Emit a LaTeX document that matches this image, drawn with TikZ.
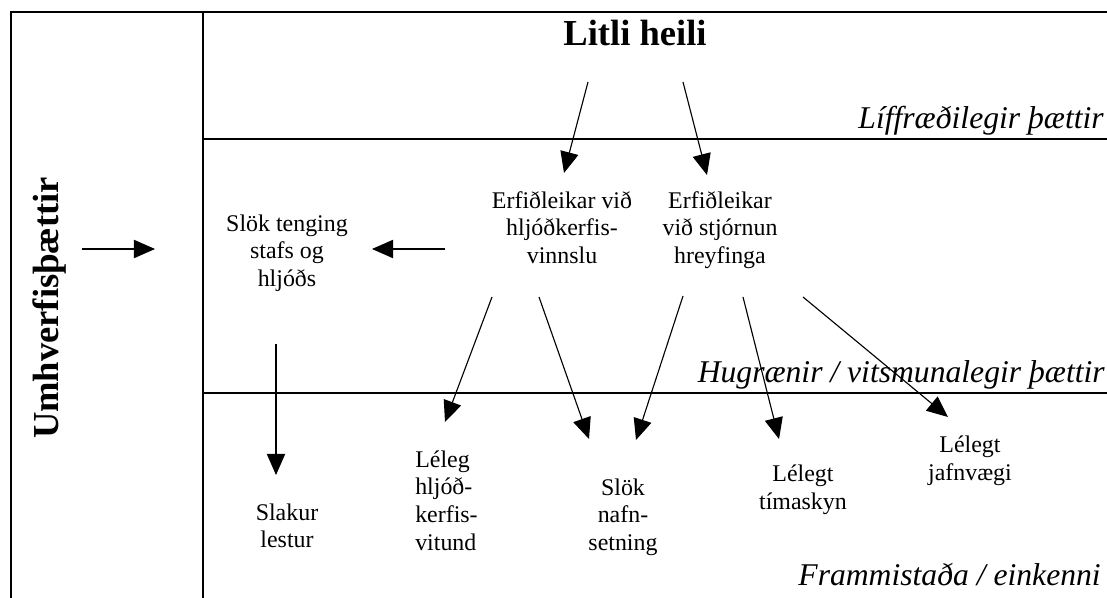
\documentclass[tikz,border=0pt]{standalone}
\usepackage{fontspec}
\setmainfont{Liberation Serif}
\usetikzlibrary{arrows.meta}

\tikzset{
  txt/.style={inner sep=0pt, align=center, font=\fontsize{17}{19.6}\selectfont},
  layer/.style={inner sep=0pt, font=\fontsize{22.5}{27}\selectfont\itshape},
  frame/.style={line width=1.3pt},
  arr/.style={line width=0.8pt, -{Triangle[length=15pt,width=13pt]}},
}

\begin{document}
\begin{tikzpicture}[x=0.025cm, y=-0.025cm]
        \useasboundingbox (0,0) rectangle (1107,598);

        % Frame and layers
        \draw[frame] (11,598) -- (11,12) -- (1107,12);
        \draw[frame] (203,12) -- (203,598);
        \draw[frame] (203,139) -- (1107,139);
        \draw[line width=1.1pt] (203,393) -- (1107,393);

        \node[layer, anchor=base east] (bio) at (1104,128) {Líffræðilegir þættir};
        \node[layer, anchor=base east] (cog) at (1105,382) {Hugrænir / vitsmunalegir þættir};
        \node[layer, anchor=base east] (beh) at (1101,585) {Frammistaða / einkenni};

        % Environment
        \node[inner sep=0pt, rotate=90, anchor=base, font=\fontsize{26}{30}\selectfont\bfseries] (env) at (58,308) {Umhverfisþættir};

        % Biological level
        \node[inner sep=0pt, anchor=base, font=\fontsize{26}{30}\selectfont\bfseries] (heili) at (635,45) {Litli heili};

        % Cognitive level
        \node[txt] (erfA) at (562,227.5) {Erfiðleikar við\\hljóðkerfis-\\vinnslu};
        \node[txt] (erfB) at (720,230) {Erfiðleikar\\við stjórnun\\hreyfinga};
        \node[txt] (slok) at (287,253) {Slök tenging\\stafs og\\hljóðs};

        % Behavioural level
        \node[txt] (slakur) at (287,526) {Slakur\\lestur};
        \node[txt, align=left, anchor=west] (leleg) at (415,500.5) {Léleg\\hljóð-\\kerfis-\\vitund};
        \node[txt] (nafn) at (623,517) {Slök\\nafn-\\setning};
        \node[txt] (timi) at (803,489.5) {Lélegt\\tímaskyn};
        \node[txt] (jafn) at (970,461) {Lélegt\\jafnvægi};

        % Arrow ends
        \coordinate (heili-a) at (588,82);
        \coordinate (heili-b) at (683,82);
        \coordinate (erfA-in) at (564,173);
        \coordinate (erfB-in) at (707,175);
        \coordinate (env-out) at (82,249);
        \coordinate (env-in) at (155,249);
        \coordinate (erfA-left) at (445,249);
        \coordinate (slok-in) at (372,249);
        \coordinate (slok-out) at (276,344);
        \coordinate (slakur-in) at (276,475);
        \coordinate (erfA-a) at (492,297);
        \coordinate (erfA-b) at (539,297);
        \coordinate (erfB-a) at (683,296);
        \coordinate (erfB-b) at (743,297);
        \coordinate (erfB-c) at (803,297);
        \coordinate (leleg-in) at (445,422);
        \coordinate (nafn-a) at (589,439);
        \coordinate (nafn-b) at (636,440);
        \coordinate (timi-in) at (779,439);
        \coordinate (jafn-in) at (948,417);

        % Arrows
        \draw[arr] (heili-a) -- (erfA-in);
        \draw[arr] (heili-b) -- (erfB-in);
        \draw[arr] (env-out) -- (env-in);
        \draw[arr] (erfA-left) -- (slok-in);
        \draw[arr] (slok-out) -- (slakur-in);
        \draw[arr] (erfA-a) -- (leleg-in);
        \draw[arr] (erfA-b) -- (nafn-a);
        \draw[arr] (erfB-a) -- (nafn-b);
        \draw[arr] (erfB-b) -- (timi-in);
        \draw[arr] (erfB-c) -- (jafn-in);
\end{tikzpicture}
\end{document}
